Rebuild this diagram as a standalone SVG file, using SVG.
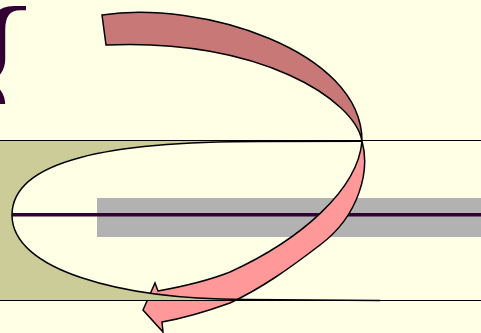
<svg xmlns="http://www.w3.org/2000/svg" width="481" height="333" viewBox="0 0 481 333">
<defs>
<style>
.edge{stroke:#000;stroke-width:1.5;stroke-linejoin:miter;fill:none}
.rib{stroke:#000;stroke-width:1.5;stroke-linejoin:miter}
.ln{stroke:#000;stroke-width:1;fill:none}
</style>
<clipPath id="clipBr"><rect x="0" y="0" width="60" height="104"/></clipPath>
</defs>
<rect x="0" y="0" width="481" height="333" fill="#FFFFE5"/>
<g id="bracket" clip-path="url(#clipBr)">
<text x="-46" y="134" font-family="Liberation Serif, serif" font-size="185" fill="#330033">{</text>
</g>
<g id="bar"><rect x="97" y="198" width="384" height="39" fill="#B2B2B2"/></g>
<g id="axis"><line x1="12" y1="214.7" x2="481" y2="214.7" stroke="#330033" stroke-width="3.5"/></g>
<g id="connectors">
<g id="arrow">
<path id="front" class="rib" fill="#FF9999" d="M362,141 C370,170 360,215 320,245 C290,268 262,288 230,303 C205,312 185,318 162,322 L163,332 L143,310 L155,283 L158,291 C180,287 205,282 230,272 C300,240 358,190 362,141 Z"/>
<path id="back" class="rib" fill="#C97878" d="M362,141 C355,100 260,38 106,45 L102,15 C200,0 362,50 362,141 Z"/>
</g>
</g>
<g id="disk">
<path fill="#CCCC99" d="M0,141 L260,141 C110,141 12,160 12,215 C12,270 120,300 245,300 L0,300 Z"/>
<path class="edge" stroke-width="1.3" d="M362,141.2 L260,141.6 C110,141.6 12,160 12,215 C12,270 120,299.3 245,299.4 L380,300.4"/>
</g>
<g id="lines">
<line class="ln" x1="0" y1="140.5" x2="481" y2="140.5"/>
<line class="ln" x1="0" y1="300.5" x2="481" y2="300.5"/>
</g>
</svg>
